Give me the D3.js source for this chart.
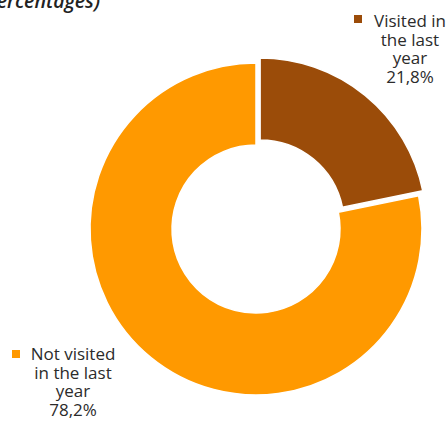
<!DOCTYPE html>
<html>
<head>
<meta charset="utf-8">
<script src="https://cdn.jsdelivr.net/npm/d3@7"></script>
<style>
html,body{margin:0;padding:0;background:#fff;}
svg{display:block;}
text{font-family:"Open Sans",sans-serif;fill:#2b2b2b;}
</style>
</head>
<body>
<svg id="chart" width="448" height="421"></svg>
<script>
const categories = ["Visited in the last year", "Not visited in the last year"];
const values = [21.8, 78.2];
const valueLabels = ["21,8%", "78,2%"];
const labelLines = [["Visited in", "the last", "year"], ["Not visited", "in the last", "year"]];
const colors = ["#9b4c09", "#ff9900"];
const titleText = "(percentages)";

const svg = d3.select("#chart");
const cx = 256, cy = 229, R = 166, r = 84, explode = 6.5;

svg.append("text")
  .attr("x", 100).attr("y", 8)
  .attr("text-anchor", "end")
  .style("font-style", "italic")
  .style("font-weight", "600")
  .style("font-size", "19.5px")
  .style("fill", "#222")
  .text(titleText);

const pie = d3.pie().sort(null).value(d => d)(values);
const arc = d3.arc().innerRadius(r).outerRadius(R);
const g = svg.append("g").attr("transform", `translate(${cx},${cy})`);
g.selectAll("path").data(pie).enter().append("path")
  .attr("d", arc)
  .attr("fill", (d, i) => colors[i])
  .attr("stroke", "#fff")
  .attr("stroke-width", 1.5)
  .attr("transform", (d, i) => {
    if (i !== 0) return null;
    const a = (d.startAngle + d.endAngle) / 2;
    return `translate(${explode * Math.sin(a)},${-explode * Math.cos(a)})`;
  });

// labels
const labelPos = [{x: 410, y: 27, sx: 354, sy: 15}, {x: 73, y: 360, sx: 12, sy: 350}];
const lh = 18.6;
labelPos.forEach((p, i) => {
  svg.append("rect").attr("x", p.sx).attr("y", p.sy).attr("width", 8).attr("height", 8).attr("fill", colors[i]);
  const lines = labelLines[i].concat([valueLabels[i]]);
  const t = svg.append("text").attr("text-anchor", "middle").style("font-size", "17px");
  lines.forEach((l, k) => {
    t.append("tspan").attr("x", p.x).attr("y", p.y + k * lh).text(l);
  });
});
</script>
</body>
</html>
